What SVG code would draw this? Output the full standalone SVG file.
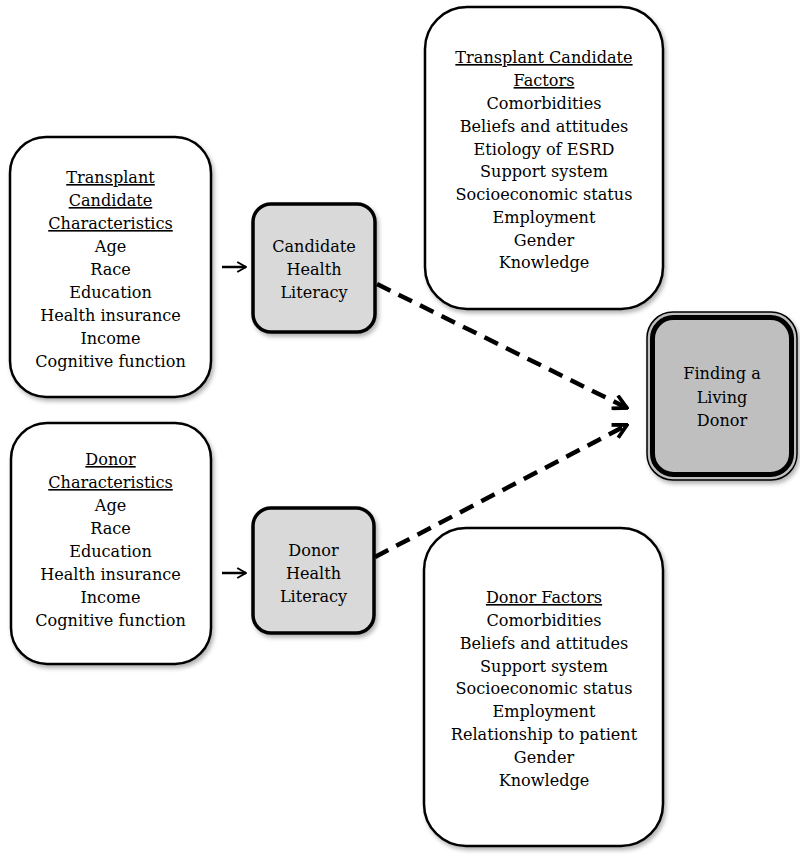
<svg xmlns="http://www.w3.org/2000/svg" width="800" height="860" viewBox="0 0 800 860">
<defs>
<style>
.box{fill:#fff;stroke:#000;stroke-width:2.5}
.hl{fill:#d9d9d9;stroke:#000;stroke-width:3.5}
.t{font-family:"DejaVu Serif","Liberation Serif",serif;font-size:16.1px;fill:#000;text-anchor:middle}
.u{text-decoration:underline}
.dash{fill:none;stroke:#000;stroke-width:4.5;stroke-dasharray:15 9}
.solid{fill:none;stroke:#000;stroke-width:2.5}
</style>
<filter id="sh" x="-10%" y="-10%" width="130%" height="130%">
<feDropShadow dx="2" dy="3" stdDeviation="2" flood-color="#000" flood-opacity="0.3"/>
</filter>
<marker id="ah" viewBox="0 0 10 10" refX="9" refY="5" markerWidth="3.8" markerHeight="3.8" orient="auto" markerUnits="strokeWidth">
<path d="M1,0.8 L9,5 L1,9.2" fill="none" stroke="#000" stroke-width="2.2"/>
</marker>
<marker id="ahs" viewBox="0 0 10 10" refX="9" refY="5" markerWidth="5" markerHeight="5" orient="auto" markerUnits="strokeWidth">
<path d="M2,1 L9,5 L2,9" fill="none" stroke="#000" stroke-width="1.6"/>
</marker>
</defs>

<g id="candidate-characteristics">
<rect class="box" filter="url(#sh)" x="10" y="137" width="201" height="260" rx="36"/>
<text class="t u" x="110.5" y="183">Transplant</text>
<text class="t u" x="110.5" y="206">Candidate</text>
<text class="t u" x="110.5" y="229">Characteristics</text>
<text class="t" x="110.5" y="252">Age</text>
<text class="t" x="110.5" y="275">Race</text>
<text class="t" x="110.5" y="298">Education</text>
<text class="t" x="110.5" y="321">Health insurance</text>
<text class="t" x="110.5" y="344">Income</text>
<text class="t" x="110.5" y="367">Cognitive function</text>
</g>

<g id="candidate-health-literacy">
<rect class="hl" filter="url(#sh)" x="253" y="204" width="122" height="128" rx="18"/>
<text class="t" x="314" y="252">Candidate</text>
<text class="t" x="314" y="275">Health</text>
<text class="t" x="314" y="298">Literacy</text>
</g>

<g id="candidate-factors">
<rect class="box" filter="url(#sh)" x="425" y="7" width="238" height="302" rx="42"/>
<text class="t u" x="544" y="63">Transplant Candidate</text>
<text class="t u" x="544" y="86">Factors</text>
<text class="t" x="544" y="109">Comorbidities</text>
<text class="t" x="544" y="131.5">Beliefs and attitudes</text>
<text class="t" x="544" y="154.5">Etiology of ESRD</text>
<text class="t" x="544" y="177">Support system</text>
<text class="t" x="544" y="200">Socioeconomic status</text>
<text class="t" x="544" y="223">Employment</text>
<text class="t" x="544" y="245.5">Gender</text>
<text class="t" x="544" y="268">Knowledge</text>
</g>

<g id="finding-living-donor">
<rect x="647" y="312" width="150" height="168" rx="26" fill="#bfbfbf" stroke="#000" stroke-width="1.5" filter="url(#sh)"/>
<rect x="652.5" y="317.5" width="139" height="157" rx="21" fill="#bfbfbf" stroke="#000" stroke-width="5"/>
<text class="t" x="722" y="379">Finding a</text>
<text class="t" x="722" y="402.5">Living</text>
<text class="t" x="722" y="426">Donor</text>
</g>

<g id="donor-characteristics">
<rect class="box" filter="url(#sh)" x="11" y="423" width="200" height="241" rx="36"/>
<text class="t u" x="110.5" y="465">Donor</text>
<text class="t u" x="110.5" y="488">Characteristics</text>
<text class="t" x="110.5" y="511">Age</text>
<text class="t" x="110.5" y="534">Race</text>
<text class="t" x="110.5" y="557">Education</text>
<text class="t" x="110.5" y="580">Health insurance</text>
<text class="t" x="110.5" y="603">Income</text>
<text class="t" x="110.5" y="626">Cognitive function</text>
</g>

<g id="donor-health-literacy">
<rect class="hl" filter="url(#sh)" x="253" y="508" width="121" height="125" rx="18"/>
<text class="t" x="313.5" y="556">Donor</text>
<text class="t" x="313.5" y="579">Health</text>
<text class="t" x="313.5" y="602">Literacy</text>
</g>

<g id="donor-factors">
<rect class="box" filter="url(#sh)" x="424" y="528" width="239" height="318" rx="42"/>
<text class="t u" x="544" y="603">Donor Factors</text>
<text class="t" x="544" y="626">Comorbidities</text>
<text class="t" x="544" y="648.5">Beliefs and attitudes</text>
<text class="t" x="544" y="671.5">Support system</text>
<text class="t" x="544" y="694">Socioeconomic status</text>
<text class="t" x="544" y="717">Employment</text>
<text class="t" x="544" y="740">Relationship to patient</text>
<text class="t" x="544" y="763">Gender</text>
<text class="t" x="544" y="786">Knowledge</text>
</g>

<g id="connectors">
<line class="solid" x1="222" y1="267" x2="246" y2="267" marker-end="url(#ahs)"/>
<line class="solid" x1="222" y1="573" x2="246" y2="573" marker-end="url(#ahs)"/>
<line class="dash" x1="377" y1="284" x2="627" y2="408" marker-end="url(#ah)"/>
<line class="dash" x1="375" y1="557" x2="627" y2="425" marker-end="url(#ah)"/>
</g>
</svg>
